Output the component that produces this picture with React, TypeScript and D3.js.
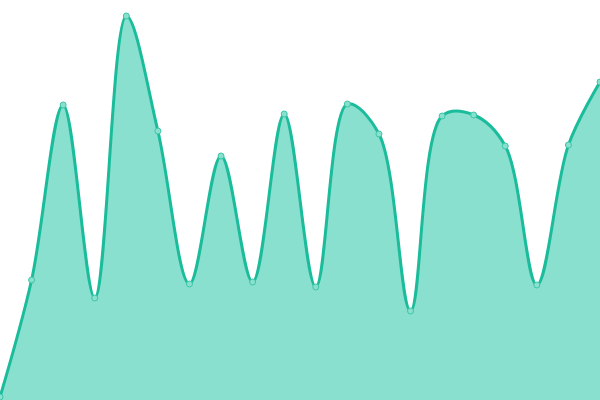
import React from "react";
import * as d3 from "d3";

const xIndex = [0, 1, 2, 3, 4, 5, 6, 7, 8, 9, 10, 11, 12, 13, 14, 15, 16, 17, 18, 19];
const values = [3, 120, 295, 102, 384, 269, 116, 244, 118, 286, 113, 296, 266, 89, 284, 285, 254, 115, 255, 318];

const W = 600;
const H = 400;

export default function App() {
  const x = d3.scaleLinear().domain([0, xIndex.length - 1]).range([0, W]);
  const y = d3.scaleLinear().domain([0, 400]).range([H, 0]);
  const data = xIndex.map((i) => ({ i, v: values[i] }));
  const curve = d3.curveCatmullRom.alpha(0.5);
  const area = d3
    .area<{ i: number; v: number }>()
    .x((d) => x(d.i))
    .y0(H)
    .y1((d) => y(d.v))
    .curve(curve);
  const line = d3
    .line<{ i: number; v: number }>()
    .x((d) => x(d.i))
    .y((d) => y(d.v))
    .curve(curve);
  return (
    <svg
      width={W}
      height={H}
      style={{ position: "fixed", left: 0, top: 0, background: "#fff" }}
    >
      <path d={area(data) || ""} fill="#8ae0ce" />
      <path d={line(data) || ""} fill="none" stroke="#1abc9c" strokeWidth={3} />
      {data.map((d) => (
        <circle
          key={d.i}
          cx={x(d.i)}
          cy={y(d.v)}
          r={3}
          fill="#8ae0ce"
          stroke="#3cc6a8"
          strokeWidth={1}
        />
      ))}
    </svg>
  );
}
